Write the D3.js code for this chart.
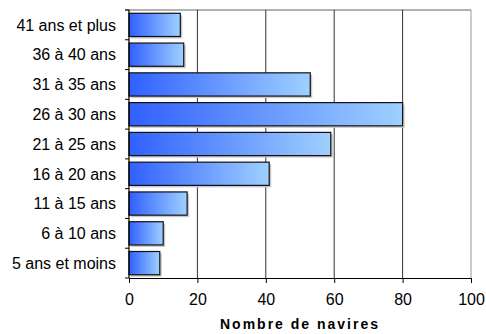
<!DOCTYPE html>
<html>
<head>
<meta charset="utf-8">
<script src="https://cdn.jsdelivr.net/npm/d3@7"></script>
<style>
  body { margin: 0; background: #fff; }
  svg { font-family: "Liberation Sans", Arial, sans-serif; }
</style>
</head>
<body>
<svg id="chart" width="486" height="334"></svg>
<script>
// Data
var categories = ["41 ans et plus", "36 à 40 ans", "31 à 35 ans", "26 à 30 ans", "21 à 25 ans",
                  "16 à 20 ans", "11 à 15 ans", "6 à 10 ans", "5 ans et moins"];
var values = [15, 16, 53, 80, 59, 41, 17, 10, 9];
var xTicks = [0, 20, 40, 60, 80, 100];
var xTitle = "Nombre de navires";

var svg = d3.select('#chart');
var padding = {t: 10, r: 15, b: 56, l: 129};
var width = +svg.attr('width') - padding.l - padding.r;
var height = +svg.attr('height') - padding.t - padding.b;

var defs = svg.append('defs');
var grad = defs.append('linearGradient')
    .attr('id', 'barGrad')
    .attr('x1', '0%').attr('x2', '100%').attr('y1', '0%').attr('y2', '0%');
grad.append('stop').attr('offset', '0%').attr('stop-color', '#3060ff');
grad.append('stop').attr('offset', '100%').attr('stop-color', '#9fd0ff');

var g = svg.append('g')
    .attr('transform', 'translate(' + [padding.l, padding.t] + ')');

var xScale = d3.scaleLinear().domain([0, 100]).range([0, width]);
var yScale = d3.scaleBand().domain(categories).range([0, height]).paddingInner(0.22).paddingOuter(0.11);

// frame on top
g.append('line').attr('x1', -4).attr('x2', width).attr('y1', 0).attr('y2', 0)
    .attr('stroke', '#999').attr('stroke-width', 1.5);

// gridlines
g.selectAll('.grid').data(xTicks.slice(1))
    .enter().append('line')
    .attr('class', 'grid')
    .attr('x1', function(d) { return xScale(d); })
    .attr('x2', function(d) { return xScale(d); })
    .attr('y1', 0).attr('y2', height)
    .attr('stroke', function(d) { return d === 100 ? '#999' : '#333'; })
    .attr('stroke-width', 1);

// shadows
g.selectAll('.shadow').data(values)
    .enter().append('rect')
    .attr('class', 'shadow')
    .attr('x', 2)
    .attr('y', function(d, i) { return yScale(categories[i]) + 2; })
    .attr('width', function(d) { return xScale(d); })
    .attr('height', yScale.bandwidth())
    .attr('fill', '#c8c8c8');

// bars
g.selectAll('.bar').data(values)
    .enter().append('rect')
    .attr('class', 'bar')
    .attr('x', 0)
    .attr('y', function(d, i) { return yScale(categories[i]); })
    .attr('width', function(d) { return xScale(d); })
    .attr('height', yScale.bandwidth())
    .attr('fill', 'url(#barGrad)')
    .attr('stroke', '#111')
    .attr('stroke-width', 1.2);

// x axis
var xAxisG = g.append('g')
    .attr('transform', 'translate(' + [0, height] + ')')
    .call(d3.axisBottom(xScale).tickValues(xTicks).tickSize(5).tickSizeOuter(0));
xAxisG.select('.domain').attr('stroke', '#000');
xAxisG.selectAll('text').attr('font-size', 16).attr('fill', '#000').attr('y', 27).attr('dy', 0)
    .attr('font-family', '"Liberation Sans", Arial, sans-serif');

// y axis: ticks between categories
var yAxisG = g.append('g');
yAxisG.append('line').attr('x1', 0).attr('x2', 0).attr('y1', 0).attr('y2', height)
    .attr('stroke', '#000').attr('stroke-width', 1.2);
yAxisG.selectAll('.ytick').data(d3.range(categories.length + 1))
    .enter().append('line')
    .attr('x1', -4).attr('x2', 0)
    .attr('y1', function(i) { return i * height / categories.length; })
    .attr('y2', function(i) { return i * height / categories.length; })
    .attr('stroke', '#000');
yAxisG.selectAll('.ylabel').data(categories)
    .enter().append('text')
    .attr('x', -13)
    .attr('y', function(d) { return yScale(d) + yScale.bandwidth() / 2; })
    .attr('dy', '0.36em')
    .attr('text-anchor', 'end')
    .attr('font-size', 16)
    .text(function(d) { return d; });

// axis title
g.append('text')
    .attr('x', width / 2)
    .attr('y', height + 51)
    .attr('text-anchor', 'middle')
    .attr('font-size', 14)
    .attr('font-weight', 'bold')
    .attr('letter-spacing', '2px')
    .text(xTitle);
</script>
</body>
</html>
